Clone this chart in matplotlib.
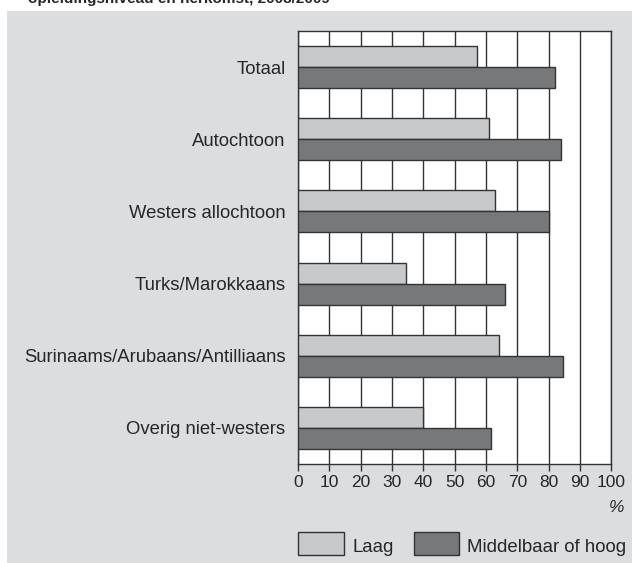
import numpy as np
import matplotlib.pyplot as plt
from matplotlib.patches import Rectangle

plt.rcParams['font.family'] = ['Liberation Sans', 'DejaVu Sans']

categories = ["Totaal", "Autochtoon", "Westers allochtoon", "Turks/Marokkaans",
              "Surinaams/Arubaans/Antilliaans", "Overig niet-westers"]
laag = [57, 61, 63, 34.5, 64, 40]
midhoog = [82, 84, 80, 66, 84.5, 61.5]
xticks = list(range(0, 101, 10))

c_laag = "#c8c9cb"
c_hoog = "#77787a"
edge = "#333333"
txt = "#262626"

fig = plt.figure(figsize=(6.32, 5.63), dpi=100)
fig.patch.set_facecolor("white")
# grijze achtergrond
fig.add_artist(Rectangle((7 / 632, 0), 1, 1 - 11 / 563, transform=fig.transFigure,
                         facecolor="#dcdddf", edgecolor="none", zorder=0))
fig.text(28 / 632, 1 - 3 / 563, "opleidingsniveau en herkomst, 2008/2009",
         fontsize=11, fontweight="bold", color=txt, va="baseline", ha="left")

ax = fig.add_axes([298 / 632, 1 - 464 / 563, (611.3 - 298) / 632, (464 - 31) / 563])
ax.set_facecolor("white")

y = np.arange(len(categories))
h = 0.29
ax.barh(y - h / 2, laag, height=h, color=c_laag, edgecolor=edge, linewidth=1, zorder=3)
ax.barh(y + h / 2, midhoog, height=h, color=c_hoog, edgecolor=edge, linewidth=1, zorder=3)

ax.set_xlim(0, 100)
ax.set_ylim(len(categories) - 0.5, -0.5)
ax.set_xticks(xticks)
ax.set_xticklabels([str(t) for t in xticks], fontsize=12.5, color=txt)
ax.set_yticks(y)
ax.set_yticklabels(categories, fontsize=13.3, color=txt)
ax.tick_params(axis="y", length=0, pad=9)
ax.tick_params(axis="x", direction="out", length=5, width=1, color=edge, pad=3)
ax.xaxis.grid(True, color="#333333", linewidth=1, zorder=1)
ax.set_axisbelow(True)
for s in ax.spines.values():
    s.set_color(edge)
    s.set_linewidth(1)

fig.text(617 / 632, 1 - 507 / 563, "%", fontsize=12.5, style="italic", color=txt,
         ha="center", va="center")

# legenda
for x0, x1, col, label, tx in [(298, 344, c_laag, "Laag", 352),
                               (414, 459, c_hoog, "Middelbaar of hoog", 467)]:
    fig.add_artist(Rectangle((x0 / 632, 1 - 555 / 563), (x1 - x0) / 632, 23 / 563,
                             transform=fig.transFigure, facecolor=col,
                             edgecolor=edge, linewidth=1))
    fig.text(tx / 632, 1 - 548 / 563, label, fontsize=13.4, color=txt,
             ha="left", va="center")

fig.savefig("out.png", dpi=100)
